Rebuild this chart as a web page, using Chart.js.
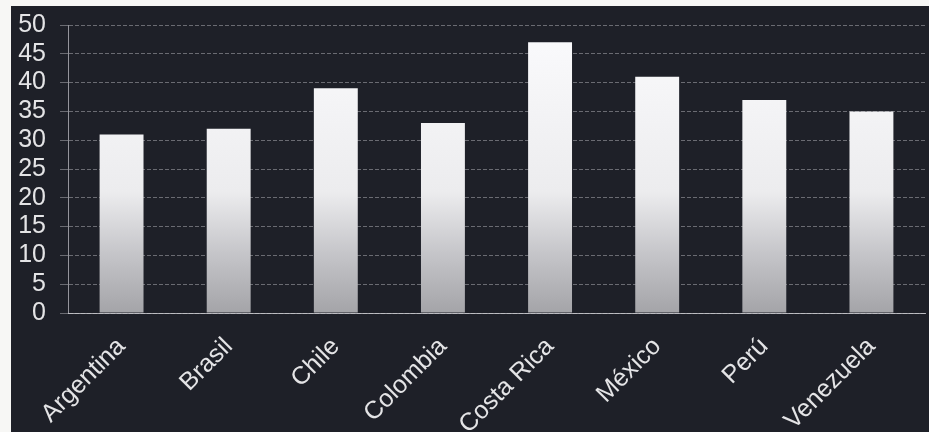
<!DOCTYPE html>
<html>
<head>
<meta charset="utf-8">
<script src="https://cdn.jsdelivr.net/npm/chart.js@4/dist/chart.umd.min.js"></script>
<style>
  html, body { margin: 0; padding: 0; background: #f7f7f5; }
  #wrap { position: absolute; left: 11px; top: 6px; width: 918px; height: 426px; background: #1e2028; }
  canvas { display: block; }
</style>
</head>
<body>
<div id="wrap"><canvas id="c" width="918" height="426"></canvas></div>
<script>
// Países y valores
const categories = ['Argentina', 'Brasil', 'Chile', 'Colombia', 'Costa Rica', 'México', 'Perú', 'Venezuela'];
const values = [31, 32, 39, 33, 47, 41, 37, 35];
const yTicks = [0, 5, 10, 15, 20, 25, 30, 35, 40, 45, 50];

const FONT = '"Liberation Sans", Arial, sans-serif';
const TEXT = '#e4e4e6';
const GRID = 'rgba(200,200,205,0.45)';

// Degradado vertical común a todas las barras (gris abajo, blanco arriba)
function barGradient(ctx) {
  const chart = ctx.chart;
  const area = chart.chartArea;
  if (!area) return '#e0e0e0';
  const g = chart.ctx.createLinearGradient(0, area.bottom, 0, area.top);
  g.addColorStop(0, '#a4a4a8');
  g.addColorStop(0.2, '#c4c4c8');
  g.addColorStop(0.42, '#ececee');
  g.addColorStop(1, '#fbfbfd');
  return g;
}

new Chart(document.getElementById('c'), {
  type: 'bar',
  data: {
    labels: categories,
    datasets: [{
      data: values,
      backgroundColor: barGradient,
      borderWidth: 0,
      categoryPercentage: 1,
      barPercentage: 0.41
    }]
  },
  options: {
    responsive: false,
    animation: false,
    devicePixelRatio: 1,
    layout: { padding: { top: 19, right: 4, left: 0, bottom: 0 } },
    plugins: { legend: { display: false }, tooltip: { enabled: false } },
    scales: {
      x: {
        grid: { display: false, drawTicks: false },
        border: { display: true, color: 'rgba(210,210,215,0.8)', width: 1 },
        ticks: {
          color: TEXT,
          font: { family: FONT, size: 25 },
          maxRotation: 45,
          minRotation: 45,
          padding: 19
        },
        afterFit(scale) { scale.height = 119; scale.paddingLeft = 0; scale.paddingRight = 0; }
      },
      y: {
        min: 0,
        max: 50,
        afterBuildTicks(scale) { scale.ticks = yTicks.map(v => ({ value: v })); },
        grid: {
          color: GRID,
          lineWidth: 1,
          tickLength: 8,
          tickColor: GRID
        },
        border: { display: true, color: 'rgba(200,200,205,0.7)', width: 1, dash: [4, 2] },
        ticks: {
          color: TEXT,
          font: { family: FONT, size: 25, lineHeight: 1 },
          padding: 14,
          autoSkip: false
        },
        afterFit(scale) { scale.width = 57; scale.paddingTop = 0; scale.paddingBottom = 0; }
      }
    }
  }
});
</script>
</body>
</html>
